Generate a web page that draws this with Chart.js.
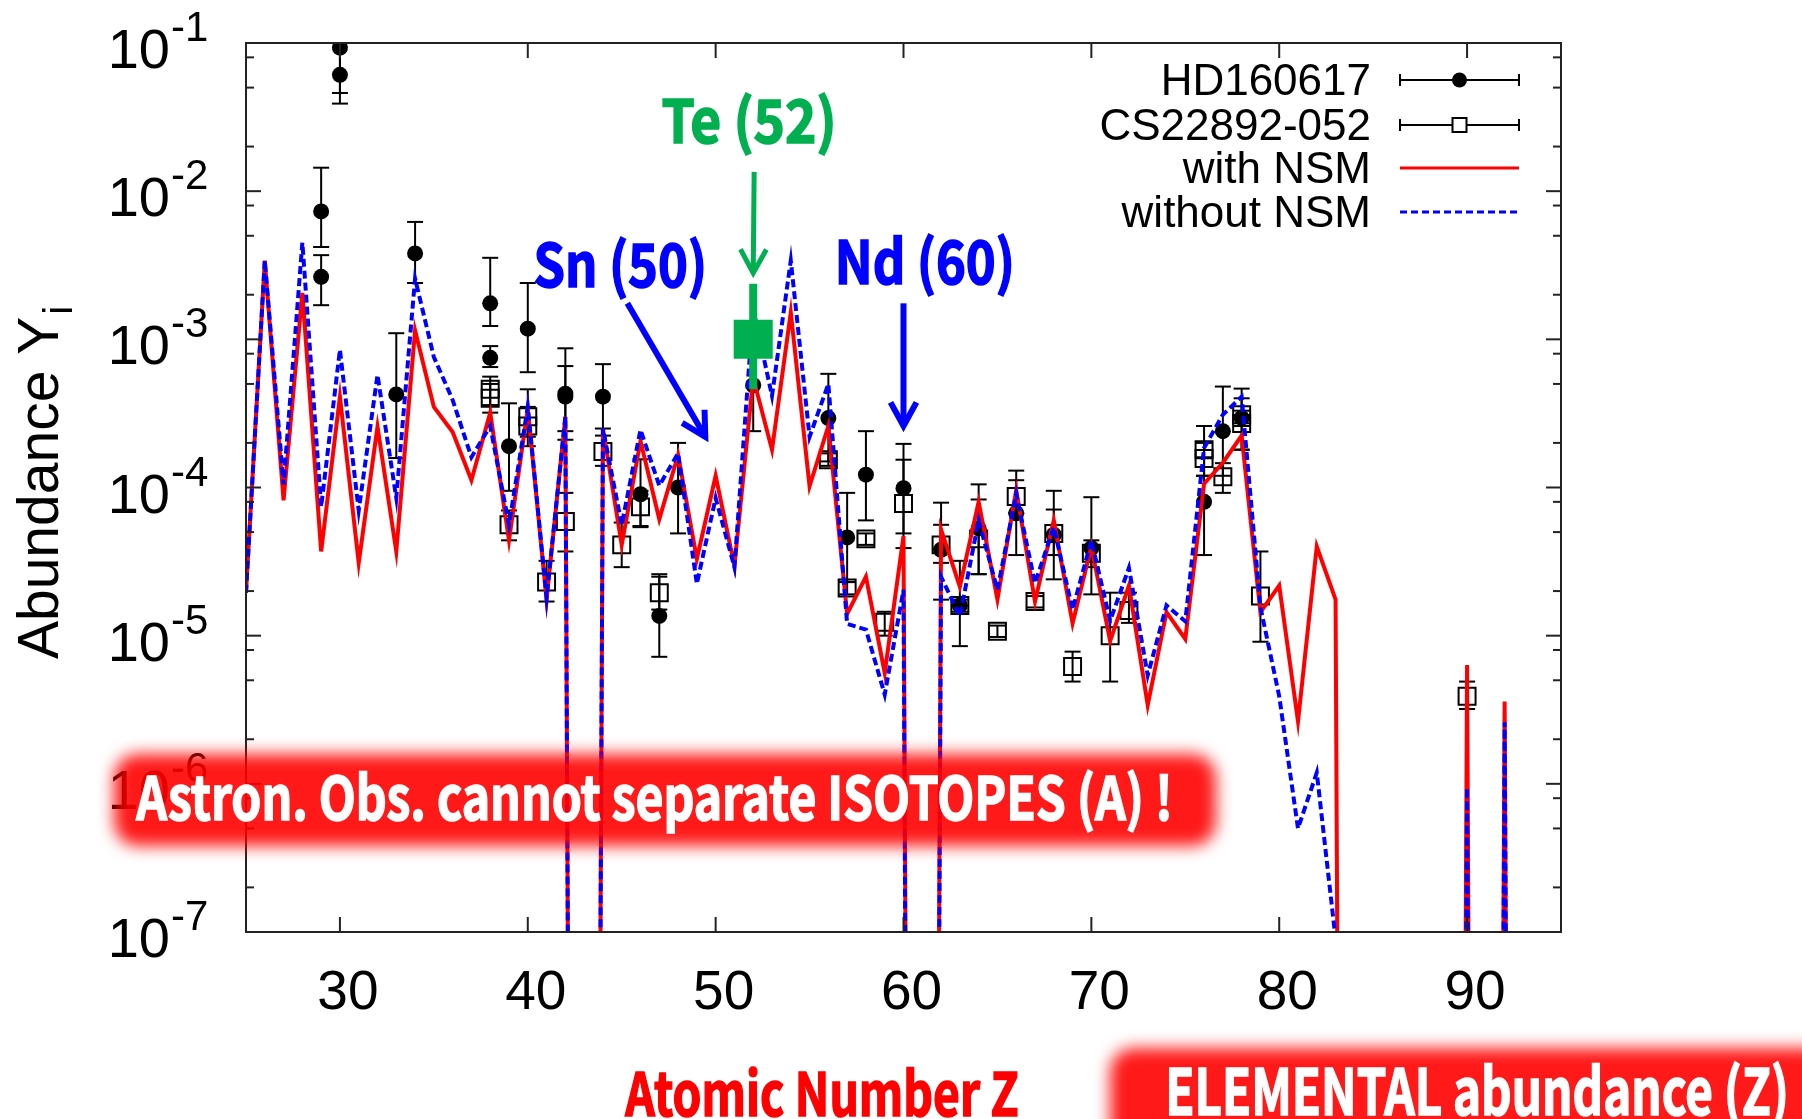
<!DOCTYPE html>
<html>
<head>
<meta charset="utf-8">
<script src="https://cdn.jsdelivr.net/npm/chart.js@4.4.0/dist/chart.umd.min.js"></script>
<style>
html, body { margin: 0; padding: 0; background: #fff; }
canvas { display: block; }
</style>
</head>
<body>
<canvas id="abundance_chart" width="1802" height="1119"></canvas>
<script>
// model abundances by atomic number (1e-30 = not produced, falls off the axis)
const model_z = [25, 26, 27, 28, 29, 30, 31, 32, 33, 34, 35, 36, 37, 38, 39, 40, 41, 42, 43, 44,
    45, 46, 47, 48, 49, 50, 51, 52, 53, 54, 55, 56, 57, 58, 59, 60, 61, 62, 63, 64,
    65, 66, 67, 68, 69, 70, 71, 72, 73, 74, 75, 76, 77, 78, 79, 80, 81, 82, 83, 84,
    85, 86, 87, 88, 89, 90, 91, 92, 93];
const with_nsm = [1.95e-5, 3.4e-3, 8.2e-5, 2.06e-3, 3.7e-5, 4.1e-4, 3.1e-5, 2.57e-4, 3.7e-5, 1.15e-3,
    3.5e-4, 2.37e-4, 1.12e-4, 3.2e-4, 4.4e-5, 3.4e-4, 1.75e-5, 3.0e-4, 1e-30, 2.5e-4,
    4.1e-5, 2.06e-4, 6.1e-5, 1.66e-4, 3.3e-5, 1.2e-4, 2.96e-5, 5.5e-4, 1.8e-4, 1.52e-3,
    1.02e-4, 2.6e-4, 1.4e-5, 2.5e-5, 5.6e-6, 4.7e-5, 1e-30, 5.2e-5, 2.14e-5, 8.0e-5,
    1.75e-5, 9.6e-5, 1.7e-5, 6.0e-5, 1.21e-5, 4.0e-5, 9.2e-6, 2.18e-5, 3.4e-6, 1.44e-5,
    9.5e-6, 1.06e-4, 1.47e-4, 2.24e-4, 1.44e-5, 2.18e-5, 2.64e-6, 4.0e-5, 1.75e-5, 1e-30,
    1e-30, 1e-30, 1e-30, 1e-30, 1e-30, 6.35e-6, 1e-30, 3.6e-6, 1e-30];
const without_nsm = [1.95e-5, 3.4e-3, 1.05e-4, 4.5e-3, 7.4e-5, 8.5e-4, 7.0e-5, 5.75e-4, 8.5e-5, 2.57e-3,
    7.6e-4, 3.9e-4, 1.6e-4, 2.6e-4, 5.6e-5, 3.5e-4, 1.8e-5, 3.0e-4, 1e-30, 2.5e-4,
    5.6e-5, 2.45e-4, 1.03e-4, 1.7e-4, 2.24e-5, 8.5e-5, 2.9e-5, 1.6e-3, 4.15e-4, 3.4e-3,
    2.2e-4, 5.0e-4, 1.2e-5, 1.1e-5, 4.0e-6, 2.04e-5, 1e-30, 2.5e-5, 1.35e-5, 6.0e-5,
    2.04e-5, 9.1e-5, 2.26e-5, 5.4e-5, 1.5e-5, 4.4e-5, 1.26e-5, 2.87e-5, 5.4e-6, 1.6e-5,
    1.25e-5, 1.85e-4, 3.1e-4, 4.1e-4, 1.56e-5, 3.9e-6, 5.0e-7, 1.19e-6, 9e-8, 1e-30,
    1e-30, 1e-30, 1e-30, 1e-30, 1e-30, 9.4e-7, 1e-30, 2.6e-6, 1e-30];

// HD160617 (filled circles)
const hd_z  = [29, 29, 30, 30, 33, 34, 38, 38, 39, 40, 42, 42, 44, 46, 47, 48, 52, 56, 57, 58,
    60, 62, 63, 64, 66, 68, 70, 76, 77, 78];
const hd_y  = [7.3e-3, 2.64e-3, 9.3e-2, 6.1e-2, 4.25e-4, 3.8e-3, 1.75e-3, 7.5e-4, 1.9e-4, 1.18e-3,
    4.3e-4, 4.1e-4, 4.1e-4, 9.0e-5, 1.36e-5, 1.0e-4, 4.9e-4, 2.94e-4, 4.6e-5, 1.22e-4,
    9.9e-5, 3.8e-5, 1.6e-5, 5.3e-5, 6.7e-5, 4.8e-5, 3.9e-5, 8.0e-5, 2.4e-4, 2.95e-4];
const hd_lo = [4.2e-3, 1.7e-3, 4.6e-2, 3.9e-2, 1.58e-4, 2.4e-3, 1.23e-3, 6.5e-4, 9.5e-5, 6.0e-4,
    2.4e-4, 2.1e-4, 2.24e-4, 5.4e-5, 7.2e-6, 4.9e-5, 2.4e-4, 1.5e-4, 2.3e-5, 6.0e-5,
    4.9e-5, 1.75e-5, 8.5e-6, 2.6e-5, 3.5e-5, 2.4e-5, 1.9e-5, 3.5e-5, 1.2e-4, 1.8e-4];
const hd_hi = [1.44e-2, 3.7e-3, 1.9e-1, 1.2e-1, 1.1e-3, 6.2e-3, 3.55e-3, 9.0e-4, 3.7e-4, 2.4e-3,
    8.7e-4, 6.6e-4, 6.8e-4, 1.55e-4, 2.5e-5, 2.0e-4, 1.0e-3, 5.85e-4, 9.2e-5, 2.4e-4,
    1.97e-4, 7.9e-5, 3.2e-5, 1.05e-4, 1.3e-4, 9.5e-5, 8.6e-5, 1.6e-4, 4.8e-4, 4.65e-4];

// CS22892-052 (open squares)
const cs_z  = [38, 38, 39, 40, 40, 41, 42, 44, 45, 46, 47, 56, 57, 58, 59, 60, 62, 63, 64, 65,
    66, 67, 68, 69, 70, 71, 72, 76, 76, 77, 78, 78, 79, 90];
const cs_y  = [4.6e-4, 4.0e-4, 5.6e-5, 3.0e-4, 2.6e-4, 2.3e-5, 5.9e-5, 1.75e-4, 4.1e-5, 7.4e-5,
    1.95e-5, 1.54e-4, 2.1e-5, 4.5e-5, 1.23e-5, 7.8e-5, 4.1e-5, 1.6e-5, 4.5e-5, 1.07e-5,
    8.7e-5, 1.7e-5, 4.9e-5, 6.2e-6, 3.6e-5, 1.0e-5, 1.48e-5, 1.8e-4, 1.57e-4, 1.18e-4,
    3.1e-4, 2.7e-4, 1.85e-5, 3.9e-6];
const cs_lo = [3.6e-4, 3.2e-4, 4.4e-5, 2.2e-4, 1.9e-4, 1.7e-5, 3.7e-5, 1.4e-4, 2.9e-5, 5.5e-5,
    1.5e-5, 1.4e-4, 1.9e-5, 4.1e-5, 1.0e-5, 3.9e-5, 3.1e-5, 1.45e-5, 2.6e-5, 9.8e-6,
    6.7e-5, 1.55e-5, 3.5e-5, 4.9e-6, 2.9e-5, 4.9e-6, 1.22e-5, 1.2e-4, 1.2e-4, 9.2e-5,
    2.6e-4, 1.8e-4, 9.1e-6, 3.2e-6];
const cs_hi = [5.6e-4, 5.0e-4, 7.0e-5, 4.6e-4, 3.5e-4, 3.2e-5, 9.2e-5, 2.5e-4, 5.8e-5, 9.5e-5,
    2.6e-5, 1.7e-4, 2.3e-5, 4.9e-5, 1.45e-5, 1.54e-4, 5.6e-5, 1.75e-5, 8.3e-5, 1.17e-5,
    1.12e-4, 1.85e-5, 7.1e-5, 7.8e-6, 4.4e-5, 1.95e-5, 1.95e-5, 2.6e-4, 2.0e-4, 1.46e-4,
    4.0e-4, 3.3e-4, 3.7e-5, 4.9e-6];

// highlighted Te (52)
const te_z  = [52];
const te_y  = [1.0e-3];
const te_lo = [4.6e-4];
const te_hi = [2.37e-3];

const x_ticks = [30, 40, 50, 60, 70, 80, 90];
const y_powers = [-7, -6, -5, -4, -3, -2, -1];
const y_minor = [2, 5, 8];

const LATIN = '"Liberation Sans", Arial, sans-serif';
const GOTHIC = '"Noto Sans CJK JP", "Noto Sans", sans-serif';

function toPoints(xs, ys){
    return xs.map((x, i) => ({x: x, y: ys[i]}));
}

function line(ctx, x1, y1, x2, y2){
    ctx.beginPath();
    ctx.moveTo(x1, y1);
    ctx.lineTo(x2, y2);
    ctx.stroke();
}

function drawErrorBars(ctx, xs, ys, zs, lo, hi){
    ctx.strokeStyle = '#000';
    ctx.lineWidth = 2;
    zs.forEach((z, i) => {
        const x = xs.getPixelForValue(z);
        const y1 = ys.getPixelForValue(lo[i]);
        const y2 = ys.getPixelForValue(hi[i]);
        line(ctx, x, y1, x, y2);
        line(ctx, x - 8, y1, x + 8, y1);
        line(ctx, x - 8, y2, x + 8, y2);
    });
}

function arrow(ctx, x1, y1, x2, y2, color, width){
    ctx.save();
    ctx.strokeStyle = color;
    ctx.lineWidth = width;
    ctx.lineJoin = 'miter';
    line(ctx, x1, y1, x2, y2);
    const a = Math.atan2(y2 - y1, x2 - x1);
    const head = 27;
    ctx.beginPath();
    ctx.moveTo(x2 - head * Math.cos(a - 0.5), y2 - head * Math.sin(a - 0.5));
    ctx.lineTo(x2, y2);
    ctx.lineTo(x2 - head * Math.cos(a + 0.5), y2 - head * Math.sin(a + 0.5));
    ctx.stroke();
    ctx.restore();
}

// bold gothic text squeezed to a given ink width, centred on cx
function fitText(ctx, text, cx, base, width, size, color){
    ctx.save();
    ctx.font = '700 ' + size + 'px ' + GOTHIC;
    ctx.fillStyle = color;
    ctx.strokeStyle = color;
    ctx.lineWidth = 1.6;
    ctx.textAlign = 'left';
    ctx.textBaseline = 'alphabetic';
    const m = ctx.measureText(text);
    const ink = m.actualBoundingBoxLeft + m.actualBoundingBoxRight;
    ctx.translate(cx - width / 2, base);
    ctx.scale(width / ink, 1);
    ctx.fillText(text, m.actualBoundingBoxLeft, 0);
    ctx.strokeText(text, m.actualBoundingBoxLeft, 0);
    ctx.restore();
}

function banner(ctx, x, y, w, h){
    ctx.save();
    ctx.globalAlpha = 0.9;
    ctx.filter = 'blur(8px)';
    ctx.fillStyle = '#ff0000';
    ctx.beginPath();
    ctx.roundRect(x, y, w, h, 24);
    ctx.fill();
    ctx.restore();
}

const frame_plugin = {
    id: 'frame',
    beforeDatasetsDraw(chart){
        const ctx = chart.ctx;
        const area = chart.chartArea;
        ctx.save();
        ctx.beginPath();
        ctx.rect(area.left, area.top, area.width, area.height);
        ctx.clip();
        drawErrorBars(ctx, chart.scales.x, chart.scales.y, hd_z, hd_lo, hd_hi);
        drawErrorBars(ctx, chart.scales.x, chart.scales.y, cs_z, cs_lo, cs_hi);
        ctx.restore();
    },
    afterDatasetsDraw(chart){
        const ctx = chart.ctx;
        const area = chart.chartArea;
        const xs = chart.scales.x;
        const ys = chart.scales.y;
        ctx.save();

        // Te error bar (thick green)
        ctx.strokeStyle = '#00b050';
        ctx.lineWidth = 8;
        te_z.forEach((z, i) => {
            const x = xs.getPixelForValue(z);
            line(ctx, x, ys.getPixelForValue(te_lo[i]), x, ys.getPixelForValue(te_hi[i]));
        });

        // frame and inward ticks
        ctx.strokeStyle = '#222';
        ctx.lineWidth = 2;
        ctx.strokeRect(area.left, area.top, area.width, area.height);
        ctx.fillStyle = '#000';
        ctx.textBaseline = 'alphabetic';
        x_ticks.forEach(v => {
            const x = xs.getPixelForValue(v);
            line(ctx, x, area.bottom, x, area.bottom - 15);
            line(ctx, x, area.top, x, area.top + 15);
            ctx.font = '55px ' + LATIN;
            ctx.textAlign = 'center';
            ctx.fillText(String(v), x + 8, area.bottom + 77);
        });
        y_powers.forEach(p => {
            const y = ys.getPixelForValue(Math.pow(10, p));
            line(ctx, area.left, y, area.left + 15, y);
            line(ctx, area.right, y, area.right - 15, y);
            if(p < -1){
                y_minor.forEach(m => {
                    const ym = ys.getPixelForValue(m * Math.pow(10, p));
                    line(ctx, area.left, ym, area.left + 8, ym);
                    line(ctx, area.right, ym, area.right - 8, ym);
                });
            }
            ctx.font = '56px ' + LATIN;
            ctx.textAlign = 'right';
            ctx.fillText('10', area.left - 76, y + 25);
            ctx.font = '42px ' + LATIN;
            ctx.textAlign = 'left';
            ctx.fillText(String(p), area.left - 75, y - 2);
        });

        // y axis title
        ctx.save();
        ctx.translate(58, (area.top + area.bottom) / 2 - 4);
        ctx.rotate(-Math.PI / 2);
        ctx.font = '57px ' + LATIN;
        const main_w = ctx.measureText('Abundance Y').width;
        ctx.font = '40px ' + LATIN;
        const sub_w = ctx.measureText('i').width;
        ctx.textAlign = 'left';
        ctx.font = '57px ' + LATIN;
        ctx.fillText('Abundance Y', -(main_w + sub_w) / 2, 0);
        ctx.font = '40px ' + LATIN;
        ctx.fillText('i', (main_w - sub_w) / 2 + 2, 14);
        ctx.restore();

        // legend
        const rows = [
            {label: 'HD160617', kind: 'circle'},
            {label: 'CS22892-052', kind: 'square'},
            {label: 'with NSM', kind: 'red'},
            {label: 'without NSM', kind: 'blue'}
        ];
        const row_y = [area.top + 37, area.top + 82, area.top + 125, area.top + 169];
        const s1 = area.right - 161, s2 = area.right - 42, sm = (s1 + s2) / 2;
        rows.forEach((r, i) => {
            const y = row_y[i];
            ctx.font = '44px ' + LATIN;
            ctx.textAlign = 'right';
            ctx.fillStyle = '#000';
            ctx.fillText(r.label, area.right - 190, y + 15);
            ctx.setLineDash([]);
            if(r.kind === 'circle' || r.kind === 'square'){
                ctx.strokeStyle = '#000';
                ctx.lineWidth = 2;
                line(ctx, s1, y, s2, y);
                line(ctx, s1, y - 6, s1, y + 6);
                line(ctx, s2, y - 6, s2, y + 6);
                if(r.kind === 'circle'){
                    ctx.beginPath();
                    ctx.arc(sm, y, 7.5, 0, Math.PI * 2);
                    ctx.fill();
                } else {
                    ctx.fillStyle = '#fff';
                    ctx.fillRect(sm - 7, y - 7, 14, 14);
                    ctx.strokeRect(sm - 7, y - 7, 14, 14);
                }
            } else if(r.kind === 'red'){
                ctx.strokeStyle = '#ff0000';
                ctx.lineWidth = 3;
                line(ctx, s1, y, s2, y);
            } else {
                ctx.strokeStyle = '#0000ff';
                ctx.lineWidth = 3;
                ctx.setLineDash([7, 4]);
                line(ctx, s1, y, s2, y);
                ctx.setLineDash([]);
            }
        });

        // element call-outs
        arrow(ctx, xs.getPixelForValue(52.05), ys.getPixelForValue(1.35e-2),
            xs.getPixelForValue(52), ys.getPixelForValue(2.8e-3), '#00b050', 5);
        arrow(ctx, xs.getPixelForValue(45.3), ys.getPixelForValue(1.75e-3),
            xs.getPixelForValue(49.45), ys.getPixelForValue(2.2e-4), '#0000ff', 6);
        arrow(ctx, xs.getPixelForValue(60), ys.getPixelForValue(1.75e-3),
            xs.getPixelForValue(60), ys.getPixelForValue(2.6e-4), '#0000ff', 6);
        fitText(ctx, 'Te (52)', xs.getPixelForValue(51.69), ys.getPixelForValue(2.11e-2), 170, 60, '#00b050');
        fitText(ctx, 'Sn (50)', xs.getPixelForValue(44.86), ys.getPixelForValue(2.24e-3), 168, 60, '#0000ff');
        fitText(ctx, 'Nd (60)', xs.getPixelForValue(61.14), ys.getPixelForValue(2.37e-3), 172, 60, '#0000ff');

        // x axis title
        fitText(ctx, 'Atomic Number Z', 821, 1116, 393, 60, '#ff0000');

        // red call-out banners
        banner(ctx, 114, 754, 1102, 92);
        fitText(ctx, 'Astron. Obs. cannot separate ISOTOPES (A) !', 652, 820, 1033, 60, '#ffffff');
        banner(ctx, 1110, 1048, 760, 120);
        fitText(ctx, 'ELEMENTAL abundance (Z)', 1477, 1115, 616, 64, '#ffffff');

        ctx.restore();
    }
};

const ctx = document.getElementById('abundance_chart').getContext('2d');
const abundance_chart = new Chart(ctx, {
    type: 'scatter',
    data: {
        datasets: [{
            label: 'without NSM',
            data: toPoints(model_z, without_nsm),
            showLine: true,
            borderColor: '#0000ff',
            borderWidth: 4,
            borderDash: [8, 4],
            pointRadius: 0,
            order: 1
        }, {
            label: 'with NSM',
            data: toPoints(model_z, with_nsm),
            showLine: true,
            borderColor: '#ff0000',
            borderWidth: 4,
            pointRadius: 0,
            order: 2
        }, {
            label: 'CS22892-052',
            data: toPoints(cs_z, cs_y),
            pointStyle: 'rect',
            pointRadius: 12,
            pointBorderWidth: 2,
            pointBorderColor: '#000',
            pointBackgroundColor: 'rgba(0,0,0,0)',
            order: 3
        }, {
            label: 'HD160617',
            data: toPoints(hd_z, hd_y),
            pointStyle: 'circle',
            pointRadius: 8,
            pointBorderWidth: 0,
            pointBackgroundColor: '#000',
            pointBorderColor: '#000',
            order: 4
        }, {
            label: 'Te',
            data: toPoints(te_z, te_y),
            pointStyle: 'rect',
            pointRadius: 27.6,
            pointBorderWidth: 0,
            pointBackgroundColor: '#00b050',
            pointBorderColor: '#00b050',
            order: 0
        }]
    },
    options: {
        responsive: false,
        animation: false,
        devicePixelRatio: 1,
        events: [],
        layout: {
            padding: {left: 246, right: 241, top: 43, bottom: 187}
        },
        scales: {
            x: {type: 'linear', min: 25, max: 95, display: false},
            y: {type: 'logarithmic', min: 1e-7, max: 1e-1, display: false}
        },
        plugins: {
            legend: {display: false},
            tooltip: {enabled: false}
        }
    },
    plugins: [frame_plugin]
});
</script>
</body>
</html>
